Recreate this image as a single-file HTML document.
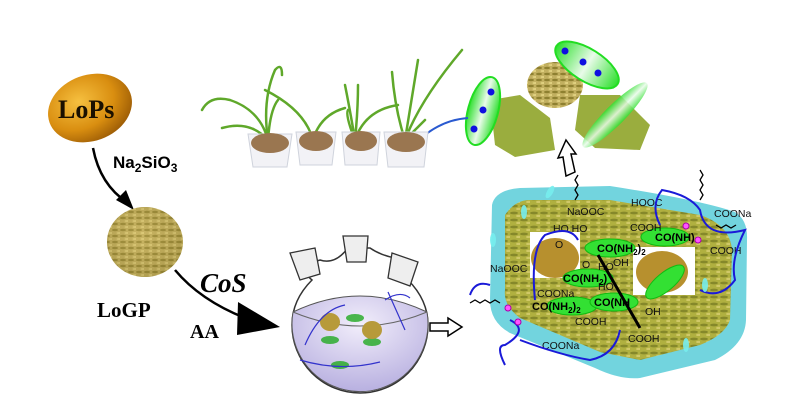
<!DOCTYPE html>
<html><head><meta charset="utf-8"><style>
html,body{margin:0;padding:0;background:#fff}
svg{display:block}
text{font-family:"Liberation Sans",sans-serif}
.s{font-family:"Liberation Serif",serif;font-weight:bold}
</style></head><body>
<svg width="798" height="405" viewBox="0 0 798 405" xmlns="http://www.w3.org/2000/svg">
<defs>
<radialGradient id="gold" cx="40%" cy="35%" r="70%"><stop offset="0" stop-color="#f6c040"/><stop offset="0.6" stop-color="#d98e10"/><stop offset="1" stop-color="#9a5a05"/></radialGradient>
<radialGradient id="ball" cx="45%" cy="40%" r="65%"><stop offset="0" stop-color="#d7be6a"/><stop offset="1" stop-color="#8d7a30"/></radialGradient>
<pattern id="tex" width="8" height="6" patternUnits="userSpaceOnUse"><rect width="8" height="6" fill="#c2b060"/><ellipse cx="3" cy="2" rx="3" ry="1.2" fill="#8e8030"/><ellipse cx="7" cy="5" rx="2.5" ry="1" fill="#e0d080"/></pattern>
<pattern id="olv" width="10" height="7" patternUnits="userSpaceOnUse"><rect width="10" height="7" fill="#b0b040"/><ellipse cx="4" cy="3" rx="4" ry="1.4" fill="#85882a"/><ellipse cx="9" cy="6" rx="3" ry="1.2" fill="#d0c868"/></pattern>
<linearGradient id="cap" x1="0" x2="1"><stop offset="0" stop-color="#2ee02e"/><stop offset="0.5" stop-color="#e9fbe9"/><stop offset="1" stop-color="#2ee02e"/></linearGradient>
<radialGradient id="liq" cx="50%" cy="30%" r="70%"><stop offset="0" stop-color="#f2eefb"/><stop offset="1" stop-color="#b8b0e0"/></radialGradient>
</defs>

<ellipse cx="90" cy="108" rx="43" ry="33" transform="rotate(-20 90 108)" fill="url(#gold)"/>
<text x="58" y="118" class="s" font-size="26" fill="#1a1000">LoPs</text>
<path d="M93 148 Q100 185 128 203" stroke="#000" stroke-width="2.5" fill="none"/>
<polygon points="134,210 116,200 126,190" fill="#000"/>
<text x="113" y="168" font-size="17" font-weight="bold">Na<tspan font-size="12" dy="4">2</tspan><tspan dy="-4">SiO</tspan><tspan font-size="12" dy="4">3</tspan></text>

<ellipse cx="145" cy="242" rx="38" ry="35" fill="url(#tex)"/>
<ellipse cx="145" cy="242" rx="38" ry="35" fill="url(#ball)" opacity="0.35"/>
<text x="97" y="317" class="s" font-size="21">LoGP</text>
<text x="200" y="292" class="s" font-size="27" font-style="italic">CoS</text>
<text x="190" y="338" class="s" font-size="20">AA</text>
<path d="M175 270 Q200 300 245 318" stroke="#000" stroke-width="2.5" fill="none"/>
<polygon points="280,327 238,302 237,335" fill="#000"/>

<!-- flask -->
<path d="M303 265 Q300 270 312 280 Q292 300 292 325 A68 68 0 0 0 428 325 Q428 300 408 280 Q418 268 412 262 L395 258 Q380 255 370 248 L348 248 Q335 265 320 260 Z" fill="#fff" stroke="#333" stroke-width="1.5"/>
<path d="M293 312 Q360 280 427 312 A68 68 0 1 1 293 312 Z" fill="url(#liq)" stroke="#555"/>
<path d="M293 312 Q360 340 427 312" stroke="#666" fill="none"/>
<g fill="#eee" stroke="#333" stroke-width="1.3">
<polygon points="290,253 315,248 320,274 300,280"/>
<polygon points="343,236 368,236 366,262 347,262"/>
<polygon points="392,253 418,262 410,286 388,278"/>
</g>
<g fill="#2a2" opacity="0.8"><ellipse cx="355" cy="318" rx="9" ry="4"/><ellipse cx="330" cy="340" rx="9" ry="4"/><ellipse cx="372" cy="342" rx="9" ry="4"/><ellipse cx="340" cy="365" rx="9" ry="4"/></g>
<ellipse cx="330" cy="322" rx="10" ry="9" fill="#b79a3a"/><ellipse cx="372" cy="330" rx="10" ry="9" fill="#b79a3a"/>
<path d="M305 345 Q320 310 345 305 M385 300 Q400 290 410 298 M300 360 Q340 372 380 362 M388 292 L405 330" stroke="#33c" stroke-width="1.2" fill="none"/>

<polygon points="430,323 448,323 448,318 462,327 448,336 448,331 430,331" fill="#fff" stroke="#000" stroke-width="1.5"/>

<!-- big box -->
<path d="M492 205 Q495 190 520 188 L610 186 Q700 200 735 212 Q748 220 747 240 L746 320 Q745 345 715 360 L640 378 Q620 380 595 368 L510 333 Q490 322 490 300 Z" fill="#72d4de"/>
<path d="M505 215 Q515 200 530 200 L610 200 L700 215 Q730 225 732 250 L730 320 Q725 335 700 345 L640 360 L600 352 L520 318 Q503 305 505 290 Z" fill="url(#olv)"/>
<rect x="530" y="232" width="50" height="46" fill="#fff"/>
<rect x="633" y="247" width="62" height="48" fill="#fff"/>
<ellipse cx="555" cy="258" rx="24" ry="20" fill="#b7902e"/>
<ellipse cx="662" cy="272" rx="26" ry="21" fill="#b7902e"/>
<g fill="#33e033" stroke="#1b1" stroke-width="1">
<ellipse cx="610" cy="248" rx="25" ry="9"/><ellipse cx="588" cy="278" rx="25" ry="9"/><ellipse cx="572" cy="306" rx="25" ry="9"/><ellipse cx="614" cy="302" rx="24" ry="9"/><ellipse cx="665" cy="237" rx="24" ry="9"/><ellipse cx="665" cy="282" rx="24" ry="9" transform="rotate(-40 665 282)"/>
</g>
<g font-size="10.5" fill="#111">
<text x="567" y="215">NaOOC</text><text x="631" y="206">HOOC</text><text x="714" y="217">COONa</text>
<text x="630" y="231">COOH</text><text x="710" y="254">COOH</text><text x="490" y="272">NaOOC</text>
<text x="537" y="297">COONa</text><text x="575" y="325">COOH</text><text x="542" y="349">COONa</text><text x="628" y="342">COOH</text>
<text x="553" y="232">HO HO</text><text x="582" y="268">O</text><text x="598" y="270">HO</text><text x="613" y="266">OH</text><text x="598" y="290">HO</text><text x="645" y="315">OH</text>
<text x="555" y="248">O</text>
</g>
<g font-size="11" font-weight="bold" fill="#000">
<text x="597" y="252">CO(NH<tspan font-size="8" dy="3">2</tspan><tspan dy="-3">)</tspan><tspan font-size="8" dy="3">2</tspan></text>
<text x="563" y="282">CO(NH<tspan font-size="8" dy="3">2</tspan><tspan dy="-3">)</tspan></text>
<text x="532" y="310">CO(NH<tspan font-size="8" dy="3">2</tspan><tspan dy="-3">)</tspan><tspan font-size="8" dy="3">2</tspan></text>
<text x="594" y="306">CO(NH</text>
<text x="655" y="241">CO(NH)</text>
</g>
<path d="M490 285 Q475 280 470 295 M660 225 Q650 205 662 190 Q690 195 700 210 Q705 240 745 230 Q730 260 735 280 Q720 300 700 290 M510 320 Q530 330 505 345 Q495 345 505 365 M520 340 Q560 355 590 360 Q615 355 620 330 M578 240 Q570 225 545 235 Q530 250 535 300" stroke="#1a1ad8" stroke-width="2" fill="none"/>
<path d="M470 303 l5 -3 l5 3 l5 -3 l5 3 l5 -3 l5 3 M575 200 l3 -5 l-3 -5 l3 -5 l-3 -5 l3 -5 M700 170 l3 5 l-3 5 l3 5 l-3 5 l3 5 l-3 5 M716 225 l5 3 l5 -3 l5 3 l5 -3" stroke="#000" stroke-width="1.3" fill="none"/>
<path d="M598 255 L640 328" stroke="#000" stroke-width="3"/>
<g fill="#f5f" stroke="#a0a"><circle cx="508" cy="308" r="3"/><circle cx="518" cy="322" r="3"/><circle cx="686" cy="226" r="3"/><circle cx="698" cy="240" r="3"/></g>
<g fill="#7ee" opacity="0.9"><ellipse cx="550" cy="192" rx="3" ry="7" transform="rotate(30 550 192)"/><ellipse cx="524" cy="212" rx="3" ry="7"/><ellipse cx="493" cy="240" rx="3" ry="7"/><ellipse cx="705" cy="285" rx="3" ry="7"/><ellipse cx="686" cy="345" rx="3" ry="7"/></g>

<polygon points="566,140 576,154 571,154 575,172 566,176 563,157 558,158" fill="#fff" stroke="#000" stroke-width="1.5"/>

<polygon points="490,100 520,95 550,118 555,150 515,157 495,145" fill="#9aad3e"/>
<polygon points="580,95 620,95 650,125 640,150 595,148 575,130" fill="#9aad3e"/>
<ellipse cx="555" cy="85" rx="28" ry="23" fill="url(#tex)"/>
<ellipse cx="483" cy="111" rx="15" ry="35" transform="rotate(15 483 111)" fill="url(#cap)" stroke="#2d2" stroke-width="2"/>
<ellipse cx="587" cy="65" rx="36" ry="16" transform="rotate(32 587 65)" fill="url(#cap)" stroke="#2d2" stroke-width="2"/>
<ellipse cx="615" cy="115" rx="10" ry="45" transform="rotate(45 615 115)" fill="url(#cap)" opacity="0.85"/>
<g fill="#1010e0"><circle cx="491" cy="92" r="3.5"/><circle cx="483" cy="110" r="3.5"/><circle cx="474" cy="129" r="3.5"/><circle cx="565" cy="51" r="3.5"/><circle cx="583" cy="62" r="3.5"/><circle cx="598" cy="73" r="3.5"/></g>
<path d="M418 141 Q440 120 468 118" stroke="#2a5ad0" stroke-width="2" fill="none"/>

<g stroke="#5fa82a" stroke-width="2.5" fill="none" stroke-linecap="round">
<path d="M268 140 Q260 110 230 100 Q210 95 202 110"/><path d="M268 140 Q262 100 275 70 Q282 62 282 75"/><path d="M268 140 Q270 110 278 100"/><path d="M268 140 Q250 120 222 128"/>
<path d="M313 140 Q305 110 265 90"/><path d="M313 140 Q320 115 345 108"/>
<path d="M355 140 Q350 110 345 85"/><path d="M355 140 Q358 110 358 85"/><path d="M355 140 Q365 110 398 105"/><path d="M355 140 Q345 115 348 110"/>
<path d="M405 140 Q410 110 418 60"/><path d="M405 140 Q420 100 462 50"/><path d="M405 140 Q395 110 392 72"/><path d="M405 140 Q415 130 425 120"/>
</g>
<g fill="#f2f2f6" stroke="#cfd3dc">
<path d="M248 134 L292 134 L287 167 L253 167 Z"/><path d="M296 132 L336 132 L332 165 L300 165 Z"/><path d="M342 132 L380 132 L377 165 L345 165 Z"/><path d="M384 132 L428 132 L424 167 L388 167 Z"/>
</g>
<g fill="#9a7650"><ellipse cx="270" cy="143" rx="19" ry="10"/><ellipse cx="316" cy="141" rx="17" ry="10"/><ellipse cx="361" cy="141" rx="16" ry="10"/><ellipse cx="406" cy="142" rx="19" ry="10"/></g>
</svg>
</body></html>
